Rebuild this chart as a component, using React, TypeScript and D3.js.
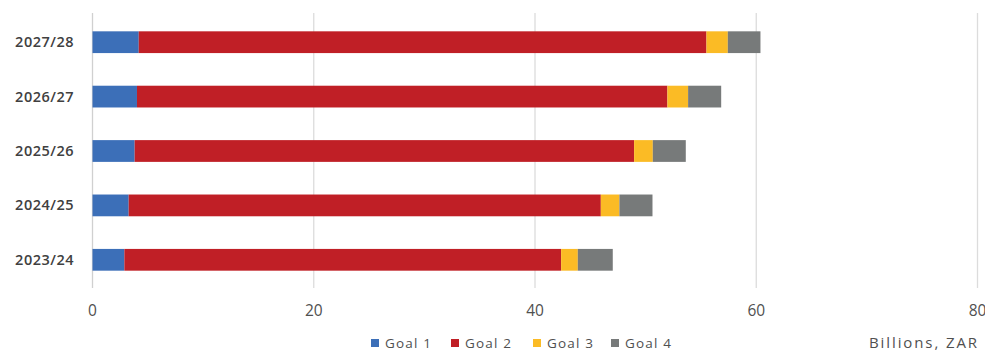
import React from "react";
import * as d3 from "d3";

const categories = ["2027/28", "2026/27", "2025/26", "2024/25", "2023/24"];
const seriesNames = ["Goal 1", "Goal 2", "Goal 3", "Goal 4"];
const goal1 = [4.18, 4.02, 3.81, 3.27, 2.88];
const goal2 = [51.32, 47.95, 45.15, 42.68, 39.48];
const goal3 = [1.93, 1.87, 1.69, 1.68, 1.51];
const goal4 = [2.95, 2.99, 2.98, 2.99, 3.16];
const xTicks = [0, 20, 40, 60, 80];
const colors = ["#3c6fb8", "#c01f26", "#fbbb25", "#777a7a"];
const unitLabel = "Billions, ZAR";

const W = 985;
const H = 351;
const font = "'Open Sans', 'Liberation Sans', sans-serif";

export default function App() {
  const x = d3.scaleLinear().domain([0, 80]).range([92.5, 977.5]);
  const y = d3
    .scaleBand<string>()
    .domain(categories)
    .range([15, 287])
    .paddingInner(0.6)
    .paddingOuter(0.3);

  const rows = categories.map((c, i) => ({
    cat: c,
    "Goal 1": goal1[i],
    "Goal 2": goal2[i],
    "Goal 3": goal3[i],
    "Goal 4": goal4[i],
  }));
  const stacked = d3.stack<any>().keys(seriesNames)(rows);

  const legendX = [371, 451, 533, 611];

  return (
    <svg
      width={W}
      height={H}
      style={{ position: "absolute", left: 0, top: 0, background: "#fff" }}
    >
      {xTicks.map((t) => (
        <g key={t}>
          <line
            x1={x(t)}
            x2={x(t)}
            y1={13}
            y2={288}
            stroke={t === 0 ? "#d0d0d0" : "#dcdcdc"}
            strokeWidth={1.3}
          />
          <text
            x={x(t)}
            y={316}
            textAnchor="middle"
            fontFamily={font}
            fontSize={15.5}
            fill="#505050"
          >
            {t}
          </text>
        </g>
      ))}
      {stacked.map((s, si) =>
        s.map((d: any, i: number) => (
          <rect
            key={si + "-" + i}
            x={x(d[0])}
            y={y(categories[i])}
            width={x(d[1]) - x(d[0])}
            height={y.bandwidth()}
            fill={colors[si]}
          />
        ))
      )}
      {categories.map((c) => (
        <text
          key={c}
          x={74}
          y={(y(c) as number) + y.bandwidth() / 2 + 5}
          textAnchor="end"
          fontFamily={font}
          fontSize={14.5}
          fontWeight={600}
          letterSpacing={0.5}
          fill="#404040"
        >
          {c}
        </text>
      ))}
      {seriesNames.map((n, i) => (
        <g key={n}>
          <rect x={legendX[i]} y={339} width={8} height={8} fill={colors[i]} />
          <text
            x={legendX[i] + 14}
            y={348}
            fontFamily={font}
            fontSize={13.5}
            letterSpacing={1.2}
            fill="#505050"
          >
            {n}
          </text>
        </g>
      ))}
      <text
        x={869}
        y={348}
        fontFamily={font}
        fontSize={15}
        letterSpacing={1.9}
        fill="#505050"
      >
        {unitLabel}
      </text>
    </svg>
  );
}
